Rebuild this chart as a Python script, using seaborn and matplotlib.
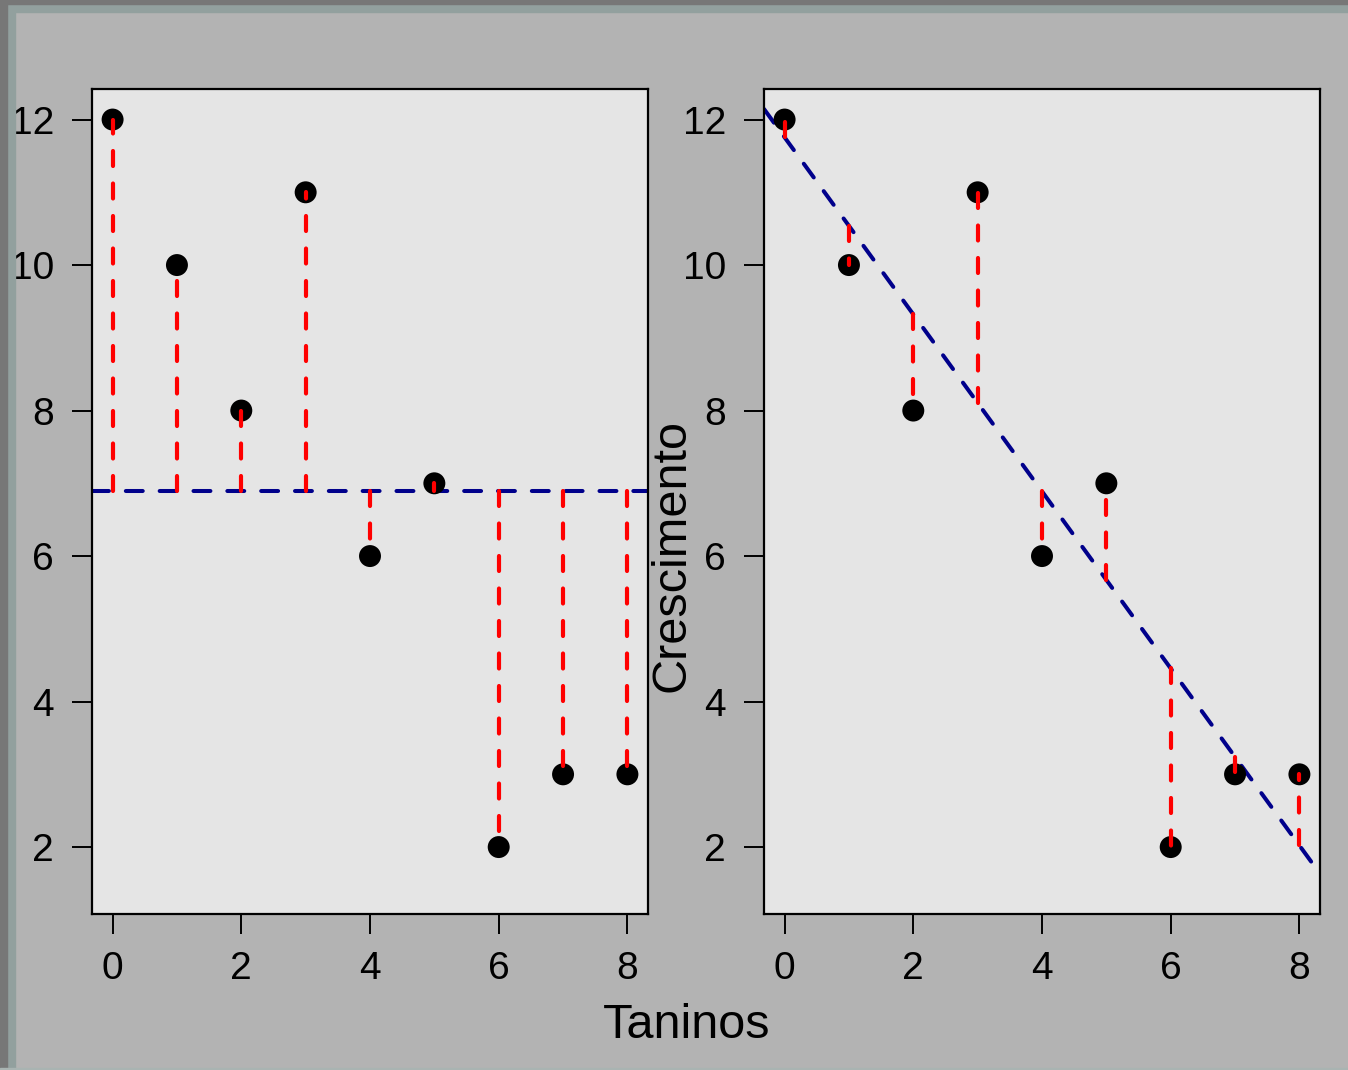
import numpy as np
import pandas as pd
import matplotlib
matplotlib.use("Agg")
import matplotlib.pyplot as plt
from matplotlib.patches import Rectangle
import seaborn as sns

# Tannin content vs. caterpillar growth
taninos = [0, 1, 2, 3, 4, 5, 6, 7, 8]
crescimento = [12, 10, 8, 11, 6, 7, 2, 3, 3]
x_ticks = [0, 2, 4, 6, 8]
y_ticks = [2, 4, 6, 8, 10, 12]

df = pd.DataFrame({"Taninos": taninos, "Crescimento": crescimento})

sns.set_style("white")
plt.rcParams["font.family"] = ["Liberation Sans", "DejaVu Sans"]

W, H = 1348, 1070
fig = plt.figure(figsize=(W / 100, H / 100), dpi=100)
fig.patch.set_facecolor("#b3b3b3")

# window frame strips along the top and left edges
def px_rect(x0, y0, w, h, color):
    fig.patches.append(Rectangle((x0 / W, 1 - (y0 + h) / H), w / W, h / H,
                                 transform=fig.transFigure, color=color,
                                 zorder=0))

px_rect(0, 0, W, 12, "#92a09e")
px_rect(0, 0, 15, H, "#92a09e")
px_rect(0, 0, W, 4, "#777777")
px_rect(0, 0, 7, H, "#777777")
px_rect(0, H - 2, W, 2, "#a9b4b2")

ax_w = 556 / W
ax_h = 825 / H
ax_b = 1 - 914 / H
ax1 = fig.add_axes([92 / W, ax_b, ax_w, ax_h])
ax2 = fig.add_axes([764 / W, ax_b, ax_w, ax_h])

x = np.array(taninos, dtype=float)
y = np.array(crescimento, dtype=float)
media = y.mean()
slope, intercept = np.polyfit(x, y, 1)
ajustado = intercept + slope * x

red_kw = dict(color="red", linewidth=3.0, linestyles=(0, (3.6, 4.2)),
              capstyle="round", zorder=4)
blue_kw = dict(color="#00008b", linewidth=2.9, linestyle=(0, (4.2, 4.2)),
               dash_capstyle="round", zorder=2)

for ax in (ax1, ax2):
    ax.set_facecolor("#e5e5e5")
    ax.set_xlim(-0.32, 8.32)
    ax.set_ylim(1.08, 12.42)

# left: deviations from the overall mean
ax1.axhline(media, **blue_kw)
sns.scatterplot(data=df, x="Taninos", y="Crescimento", ax=ax1, s=250,
                color="black", edgecolor="none", zorder=3, legend=False)
ax1.vlines(x, media, y, **red_kw)

# right: residuals from the least-squares line
ax2.axline((0, intercept), slope=slope, **blue_kw)
sns.scatterplot(data=df, x="Taninos", y="Crescimento", ax=ax2, s=250,
                color="black", edgecolor="none", zorder=3, legend=False)
ax2.vlines(x, ajustado, y, **red_kw)

for ax in (ax1, ax2):
    ax.set_xlabel("")
    ax.set_ylabel("")
    ax.set_xticks(x_ticks)
    ax.set_yticks(y_ticks)
    ax.set_xticklabels([str(v) for v in x_ticks])
    ax.set_yticklabels([str(v) for v in y_ticks])
    ax.tick_params(axis="both", direction="out", length=14.4, width=1.4,
                   color="black", labelsize=28, labelcolor="black")
    ax.tick_params(axis="x", pad=12)
    ax.tick_params(axis="y", pad=13)
    ax.tick_params(left=True, bottom=True)
    for sp in ax.spines.values():
        sp.set_visible(True)
        sp.set_color("black")
        sp.set_linewidth(1.6)

fig.text(687 / W, 1 - 1026 / H, "Taninos", ha="center", va="center",
         fontsize=35, color="black")
fig.text(672 / W, 1 - 555 / H, "Crescimento", ha="center", va="center",
         rotation=90, fontsize=35, color="black")

fig.savefig("out.png", dpi=100, facecolor=fig.get_facecolor())
